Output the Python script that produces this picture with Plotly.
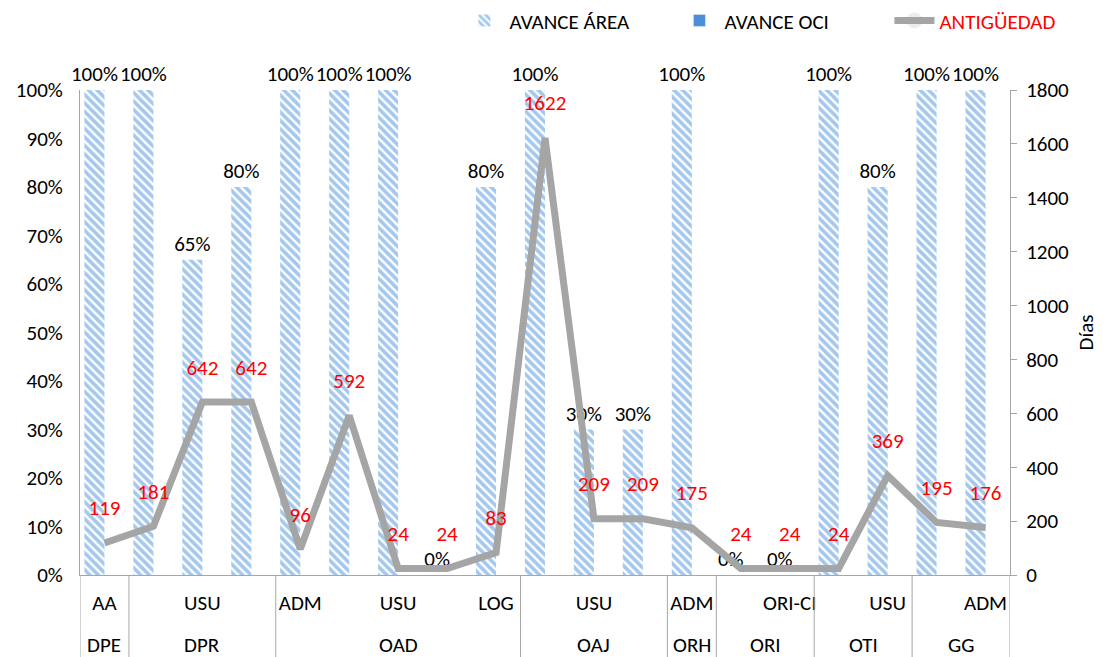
import plotly.graph_objects as go

groups = ["DPE", "DPR", "DPR", "DPR", "OAD", "OAD", "OAD", "OAD", "OAD",
          "OAJ", "OAJ", "OAJ", "ORH", "ORI", "ORI", "OTI", "OTI", "GG", "GG"]
subs = ["AA", "", "USU", "", "ADM", "", "USU", "", "LOG",
        "", "USU", "", "ADM", "", "ORI-CI", "", "USU", "", "ADM"]
avance_area = [1.00, 1.00, 0.65, 0.80, 1.00, 1.00, 1.00, 0.00, 0.80,
               1.00, 0.30, 0.30, 1.00, 0.00, 0.00, 1.00, 0.80, 1.00, 1.00]
avance_oci = [None] * 19
antiguedad = [119, 181, 642, 642, 96, 592, 24, 24, 83,
              1622, 209, 209, 175, 24, 24, 24, 369, 195, 176]

FONT = "Calibri, Carlito, Lato, sans-serif"
FS = 21
xs = list(range(len(groups)))

fig = go.Figure()
fig.add_trace(go.Bar(
    x=xs, y=avance_area, name="AVANCE ÁREA",
    marker=dict(color="white", line=dict(width=0),
                pattern=dict(shape="\\", fgcolor="#4A8FDC", bgcolor="white",
                             size=6, solidity=0.6, fillmode="overlay")),
    texttemplate="%{y:.0%}", textposition="outside", constraintext="none",
    textfont=dict(size=FS, color="black", family=FONT),
    cliponaxis=False,
))
fig.add_trace(go.Bar(
    x=xs, y=avance_oci, name="AVANCE OCI",
    marker=dict(color="#4A8FD8"),
))
fig.add_trace(go.Scatter(
    x=xs, y=antiguedad, name='<span style="color:#FF0000">ANTIGÜEDAD</span>',
    yaxis="y2", mode="lines+markers+text",
    line=dict(color="#A5A5A5", width=7),
    marker=dict(size=34, opacity=0, color="#A5A5A5"),
    text=[str(v) for v in antiguedad], textposition="top center",
    textfont=dict(size=FS, color="#FF0000", family=FONT),
    cliponaxis=False,
))

# group dividers and group labels (multi-level category axis)
n = len(groups)
bounds = [-0.5] + [i - 0.5 for i in range(1, n) if groups[i] != groups[i - 1]] + [n - 0.5]
shapes = [dict(type="line", xref="x", yref="paper", x0=b, x1=b, y0=0, y1=-0.2,
               line=dict(color="#A6A6A6", width=1)) for b in bounds]
annotations = []
for a, b in zip(bounds[:-1], bounds[1:]):
    g = groups[int(a + 0.5)]
    annotations.append(dict(x=(a + b) / 2, y=-0.145, xref="x", yref="paper",
                            text=g, showarrow=False, yanchor="middle",
                            font=dict(size=FS, family=FONT, color="black")))

tickvals = [i for i, s in enumerate(subs) if s]
ticktext = [s for s in subs if s]

fig.update_layout(
    width=1099, height=649,
    margin=dict(l=72, r=97, t=82, b=82, autoexpand=False),
    paper_bgcolor="white", plot_bgcolor="white",
    font=dict(family=FONT, size=FS, color="black"),
    barmode="group", bargap=0.18, bargroupgap=0.0,
    showlegend=True,
    legend=dict(orientation="h", x=0.408, xanchor="left", y=1.185, yanchor="top",
                font=dict(size=FS, color="black"), traceorder="normal",
                itemwidth=40, entrywidth=160),
    shapes=shapes, annotations=annotations,
    xaxis=dict(range=[-0.5, n - 0.5], tickvals=tickvals, ticktext=ticktext,
               showline=True, linecolor="#A6A6A6", linewidth=1,
               showgrid=False, zeroline=False, tickangle=0, ticks="",
               ticklabelstandoff=9, tickfont=dict(size=FS)),
    yaxis=dict(range=[0, 1], dtick=0.1, tickformat=".0%", showgrid=False,
               showline=True, linecolor="#A6A6A6", zeroline=False,
               ticks="", ticklabelstandoff=12, tickfont=dict(size=FS)),
    yaxis2=dict(range=[0, 1800], dtick=200, overlaying="y", side="right",
                showgrid=False, showline=True, linecolor="#A6A6A6",
                ticks="outside", ticklen=6, tickcolor="#A6A6A6",
                ticklabelstandoff=5,
                zeroline=False, tickfont=dict(size=FS),
                title=dict(text="Días", font=dict(size=FS), standoff=10)),
)

fig.write_html("out.html")
